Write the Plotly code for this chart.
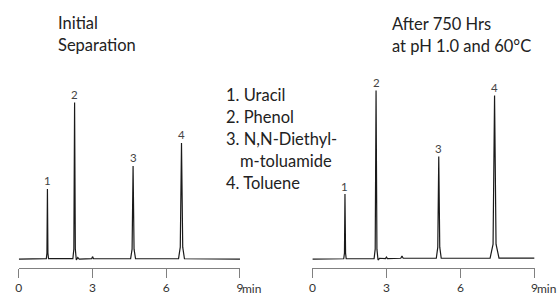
import plotly.graph_objects as go

# ---- data (signal in arbitrary units, baseline = 0) ----
left_time = [0.00, 1.12, 1.145, 1.165, 1.185, 1.21, 2.20, 2.24, 2.27, 2.30, 2.34, 2.40, 2.46,
             2.97, 3.00, 3.04, 4.55, 4.61, 4.65, 4.69, 4.75, 6.50, 6.57, 6.62, 6.67, 6.74, 9.00]
left_signal = [0.0, 0.5, 6, 70.5, 6, 0.5, 0.5, 10, 157.7, 10, -1, 1.5, 0,
               0.5, 2.5, 0.3, 0.5, 10, 93.7, 10, 0.3, 0.5, 12, 117, 12, 0.3, 0.0]

right_time = [0.00, 1.27, 1.30, 1.32, 1.345, 1.37, 2.50, 2.545, 2.58, 2.615, 2.66, 2.72,
              2.96, 3.00, 3.04, 3.58, 3.63, 3.68, 5.02, 5.08, 5.12, 5.16, 5.22,
              7.20, 7.32, 7.38, 7.44, 7.56, 9.00]
right_signal = [0.0, 0.3, 6, 65.5, 6, 0.3, 0.5, 10, 169.8, 10, -1, 0.8,
                0.5, 2.0, 0.5, 0.8, 3.0, 0.8, 0.8, 12, 103.2, 12, 0.8,
                1.0, 15, 164.8, 15, 1.0, 1.0]

peak_labels = ["1", "2", "3", "4"]
left_peak_times = [1.165, 2.27, 4.65, 6.62]
left_peak_heights = [70.5, 157.7, 93.7, 117]
right_peak_times = [1.32, 2.58, 5.12, 7.38]
right_peak_heights = [65.5, 169.8, 103.2, 164.8]

compounds = ["Uracil", "Phenol", "N,N-Diethyl-", "m-toluamide", "Toluene"]
compound_prefix = ["1.", "2.", "3.", "", "4."]

tick_vals = [0, 3, 6, 9]
tick_text = ["0", "3", "6", "9"]

title_left = ["Initial", "Separation"]
title_right = ["After 750 Hrs", "at pH 1.0 and 60°C"]

FONT = "Lato"
W, H = 558, 295
MB = 25
PH = H - MB  # plot-area height (paper coords span this)


def py(p):
    """pixel row from top -> paper y"""
    return 1 - p / PH


fig = go.Figure()
fig.add_trace(go.Scatter(x=left_time, y=left_signal, mode="lines",
                         line=dict(color="#1a1a1a", width=1.2), xaxis="x", yaxis="y",
                         hoverinfo="skip"))
fig.add_trace(go.Scatter(x=right_time, y=right_signal, mode="lines",
                         line=dict(color="#1a1a1a", width=1.2), xaxis="x2", yaxis="y2",
                         hoverinfo="skip"))

xax = dict(range=[0, 9], tickvals=tick_vals, ticktext=tick_text, showline=True,
           linecolor="#808080", linewidth=1, ticks="outside", ticklen=9, tickwidth=1,
           tickcolor="#808080", showgrid=False, zeroline=False,
           tickfont=dict(family=FONT, size=12, color="#333"), fixedrange=True)
yax = dict(range=[-9, 261], visible=False, showgrid=False, zeroline=False, fixedrange=True)

fig.update_layout(
    width=W, height=H,
    margin=dict(l=0, r=0, t=0, b=MB),
    paper_bgcolor="white", plot_bgcolor="white",
    showlegend=False,
    xaxis=dict(domain=[16 / W, 240 / W], anchor="y", **xax),
    xaxis2=dict(domain=[313.3 / W, 538.3 / W], anchor="y2", **xax),
    yaxis=dict(domain=[0, 1], anchor="x", **yax),
    yaxis2=dict(domain=[0, 1], anchor="x2", **yax),
)

ann = []
for lab, t, h in zip(peak_labels, left_peak_times, left_peak_heights):
    ann.append(dict(x=t, y=h, xref="x", yref="y", text=lab, showarrow=False,
                    yanchor="middle", yshift=8.5, font=dict(family=FONT, size=11.5, color="#444")))
for lab, t, h in zip(peak_labels, right_peak_times, right_peak_heights):
    ann.append(dict(x=t, y=h, xref="x2", yref="y2", text=lab, showarrow=False,
                    yanchor="middle", yshift=8, font=dict(family=FONT, size=11.5, color="#444")))

# "min" unit right after the last tick label
for xr in ["x", "x2"]:
    ann.append(dict(x=9, y=0, xref=xr, yref="paper", text="min", showarrow=False,
                    xanchor="left", yanchor="top", xshift=0, yshift=-11,
                    font=dict(family=FONT, size=12, color="#333")))

TFS = 16.5
# titles
for i, line in enumerate(title_left):
    ann.append(dict(x=54 / W, y=py(23.5 + 22 * i), xref="paper", yref="paper", text=line,
                    showarrow=False, xanchor="left", yanchor="middle",
                    font=dict(family=FONT, size=TFS, color="#222")))
for i, line in enumerate(title_right):
    ann.append(dict(x=392 / W, y=py(24.5 + 22 * i), xref="paper", yref="paper", text=line,
                    showarrow=False, xanchor="left", yanchor="middle",
                    font=dict(family=FONT, size=TFS, color="#222")))

# compound list
for i, (p, c) in enumerate(zip(compound_prefix, compounds)):
    txt = (p + " " + c) if p else c
    x0 = 223.7 if p else 238
    ann.append(dict(x=x0 / W, y=py(95.5 + 22.2 * i), xref="paper", yref="paper", text=txt,
                    showarrow=False, xanchor="left", yanchor="middle",
                    font=dict(family=FONT, size=TFS, color="#222")))

fig.update_layout(annotations=ann)
fig.write_html("out.html", post_script="document.body.style.margin='0';",
               config={"displayModeBar": False})
